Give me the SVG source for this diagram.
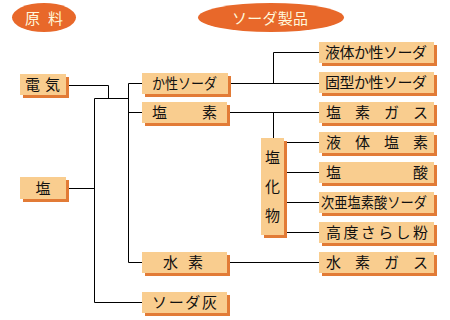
<svg xmlns="http://www.w3.org/2000/svg" width="450" height="320" viewBox="0 0 450 320">
<style>
.sh{fill:#E27B36}
.bx{fill:#F9CD8F}
.t{font-family:"Noto Sans CJK JP","Noto Sans CJK SC",sans-serif;font-size:15px;fill:#111}
.et{font-family:"Noto Sans CJK JP","Noto Sans CJK SC",sans-serif;font-size:15px;fill:#FFF8DC}
.ln{fill:none;stroke:#000;stroke-width:1}
.el{fill:#E8682A}
</style>
<rect width="450" height="320" fill="#fff"/>
<g id="title-raw">
<ellipse class="el" cx="44" cy="17.5" rx="32" ry="14.5"/>
<text class="et" x="25" y="23.5" textLength="38" lengthAdjust="spacing">原料</text>
</g>
<g id="title-products">
<ellipse class="el" cx="271" cy="17.5" rx="73" ry="14.5"/>
<text class="et" x="232" y="23.5" textLength="76" lengthAdjust="spacing">ソーダ製品</text>
</g>
<g id="connectors">
<path class="ln" d="M66 85.5H108.5V98.5M94.5 98.5H128.5"/>
<path class="ln" d="M66 188.5H94.5"/>
<path class="ln" d="M94.5 98.5V302.5H142"/>
<path class="ln" d="M128.5 83.5V262.5M128.5 83.5H142M128.5 112.5H142M128.5 262.5H142"/>
<path class="ln" d="M228 83.5H319M273.5 83.5V52.5H319"/>
<path class="ln" d="M227 112.5H319M273.5 112.5V138"/>
<path class="ln" d="M284 142.5H319M284 172.5H319M284 202.5H319M284 232.5H319"/>
<path class="ln" d="M227 262.5H319"/>
</g>
<g id="n-denki"><rect class="sh" x="23" y="77" width="46" height="21"/><rect class="bx" x="20" y="74" width="46" height="21"/><text class="t" x="25" y="90" textLength="35" lengthAdjust="spacing">電気</text></g>
<g id="n-shio"><rect class="sh" x="23" y="180" width="46" height="22"/><rect class="bx" x="20" y="177" width="46" height="22"/><text class="t" x="43" y="193.5" text-anchor="middle">塩</text></g>
<g id="n-kaseisoda"><rect class="sh" x="145" y="76" width="86" height="21"/><rect class="bx" x="142" y="73" width="86" height="21"/><text class="t" x="152" y="89" textLength="65" lengthAdjust="spacingAndGlyphs">か性ソーダ</text></g>
<g id="n-enso"><rect class="sh" x="145" y="105" width="85" height="21"/><rect class="bx" x="142" y="102" width="85" height="21"/><text class="t" x="152" y="118" textLength="65" lengthAdjust="spacing">塩素</text></g>
<g id="n-suiso"><rect class="sh" x="145" y="255" width="85" height="21"/><rect class="bx" x="142" y="252" width="85" height="21"/><text class="t" x="163" y="268" textLength="40" lengthAdjust="spacing">水素</text></g>
<g id="n-sodabai"><rect class="sh" x="145" y="295" width="85" height="21"/><rect class="bx" x="142" y="292" width="85" height="21"/><text class="t" x="152" y="308" textLength="65" lengthAdjust="spacing">ソーダ灰</text></g>
<g id="n-enkabutsu"><rect class="sh" x="264" y="141" width="23" height="97"/><rect class="bx" x="261" y="138" width="23" height="97"/>
<text class="t" x="272.5" y="162.5" text-anchor="middle">塩</text><text class="t" x="272.5" y="192" text-anchor="middle">化</text><text class="t" x="272.5" y="221" text-anchor="middle">物</text></g>
<g id="n-ekitai-kasei"><rect class="sh" x="322" y="45" width="115" height="21"/><rect class="bx" x="319" y="42" width="115" height="21"/><text class="t" x="325" y="58" textLength="102" lengthAdjust="spacing">液体か性ソーダ</text></g>
<g id="n-kokei-kasei"><rect class="sh" x="322" y="75" width="115" height="21"/><rect class="bx" x="319" y="72" width="115" height="21"/><text class="t" x="325" y="88" textLength="102" lengthAdjust="spacing">固型か性ソーダ</text></g>
<g id="n-enso-gas"><rect class="sh" x="322" y="105" width="115" height="21"/><rect class="bx" x="319" y="102" width="115" height="21"/><text class="t" x="326" y="118" textLength="102" lengthAdjust="spacing">塩素ガス</text></g>
<g id="n-ekitai-enso"><rect class="sh" x="322" y="135" width="115" height="21"/><rect class="bx" x="319" y="132" width="115" height="21"/><text class="t" x="326" y="148" textLength="102" lengthAdjust="spacing">液体塩素</text></g>
<g id="n-ensan"><rect class="sh" x="322" y="165" width="115" height="21"/><rect class="bx" x="319" y="162" width="115" height="21"/><text class="t" x="326" y="178" textLength="102" lengthAdjust="spacing">塩酸</text></g>
<g id="n-jiaensosan"><rect class="sh" x="322" y="195" width="115" height="21"/><rect class="bx" x="319" y="192" width="115" height="21"/><text class="t" x="321" y="208" textLength="106" lengthAdjust="spacingAndGlyphs">次亜塩素酸ソーダ</text></g>
<g id="n-koudo"><rect class="sh" x="322" y="225" width="115" height="21"/><rect class="bx" x="319" y="222" width="115" height="21"/><text class="t" x="326" y="238" textLength="102" lengthAdjust="spacing">高度さらし粉</text></g>
<g id="n-suiso-gas"><rect class="sh" x="322" y="255" width="115" height="21"/><rect class="bx" x="319" y="252" width="115" height="21"/><text class="t" x="326" y="268" textLength="102" lengthAdjust="spacing">水素ガス</text></g>
</svg>
